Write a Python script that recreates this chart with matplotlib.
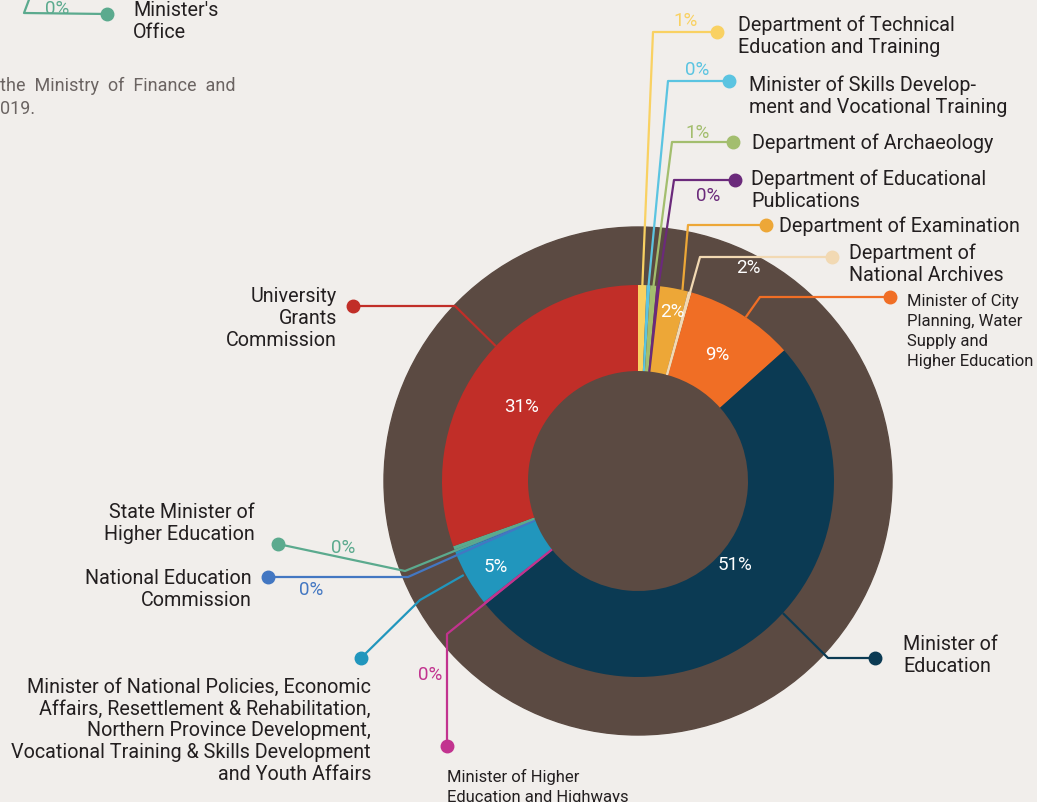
import numpy as np
import matplotlib.pyplot as plt
from matplotlib.patches import Circle

# Shares of expenditure (clockwise from 12 o'clock)
names = [
    "Department of Technical\nEducation and Training",
    "Minister of Skills Develop-\nment and Vocational Training",
    "Department of Archaeology",
    "Department of Educational\nPublications",
    "Department of Examination",
    "Department of\nNational Archives",
    "Minister of City\nPlanning, Water\nSupply and\nHigher Education",
    "Minister of\nEducation",
    "Minister of Higher\nEducation and Highways",
    "Minister of National Policies, Economic\nAffairs, Resettlement & Rehabilitation,\n"
    "Northern Province Development,\nVocational Training & Skills Development\nand Youth Affairs",
    "National Education\nCommission",
    "State Minister of\nHigher Education",
    "University\nGrants\nCommission",
]
shares = [0.7, 0.3, 0.5, 0.3, 2.3, 0.3, 9.0, 50.8, 0.2, 4.7, 0.2, 0.3, 30.4]
pct_labels = ["1%", "0%", "1%", "0%", "2%", "2%", "9%", "51%", "0%", "5%", "0%", "0%", "31%"]
colors = ["#F9D162", "#5BC4E1", "#A3BE6E", "#6B2A7B", "#EDA737", "#F2D9B3",
          "#F06E25", "#0B3A53", "#C2338F", "#2196BD", "#4377C2", "#5BAA8E", "#C12E28"]

BG = "#F1EEEB"
BROWN = "#5B4A42"
TXT = "#231F20"
W, H = 1037, 803
CX, CY = 638, 482          # ring centre in image pixels
R_OUT, R_IN, R_DISC = 196, 110, 254

plt.rcParams["font.family"] = ["Roboto", "DejaVu Sans"]

fig = plt.figure(figsize=(W / 100, H / 100), dpi=100)
fig.patch.set_facecolor(BG)
ax = fig.add_axes([0, 0, 1, 1])
ax.set_facecolor(BG)


def P(x, y):
    # image pixel -> data coords
    return x, H - y


ax.add_patch(Circle(P(CX, CY), R_DISC, color=BROWN, zorder=0))
wedges, _ = ax.pie(shares, colors=colors, radius=R_OUT, center=P(CX, CY),
                   startangle=90, counterclock=False, frame=True,
                   wedgeprops=dict(width=R_OUT - R_IN, linewidth=0))
ax.set_xlim(0, W)
ax.set_ylim(0, H)
ax.set_aspect("equal")
ax.axis("off")

# leader layout: (position in wedge, anchor radius, elbow, dot, pct pos, pct colour,
#                 text pos, text ha, fontsize, linespacing)
BIG, SMALL = 14.2, 12
layout = [
    (0.5, 193, (653, 33), (717, 33), (686, 21), None, (738, 36), "left", BIG, 1.2),
    (0.5, 193, (668, 82), (729, 82), (697, 70), None, (749, 96), "left", BIG, 1.2),
    (0.5, 193, (672, 143), (733, 143), (698, 133), None, (752, 143), "left", BIG, 1.2),
    (0.5, 193, (674, 181), (735, 181), (708, 196), None, (751, 190), "left", BIG, 1.2),
    (0.8, 196, (688, 226), (766, 226), (672, 312), "white", (779, 226), "left", BIG, 1.2),
    (0.5, 110, (700, 258), (832, 258), (748, 268), "white", (849, 264), "left", BIG, 1.2),
    (0.54, 196, (760, 298), (890, 298), (717, 355), "white", (907, 331), "left", SMALL, 1.4),
    (0.46, 196, (828, 659), (875, 659), (735, 565), "white", (903, 656), "left", BIG, 1.2),
    (0.5, 110, (447, 635), (447, 747), (430, 675), None, (447, 787), "left", SMALL, 1.35),
    (0.58, 198, (420, 601), (361, 659), (496, 567), "white", (371, 731), "right", BIG, 1.2),
    (0.5, 111, (408, 578), (268, 578), (311, 590), None, (252, 590), "right", BIG, 1.2),
    (0.5, 111, (405, 572), (278, 545), (343, 548), None, (255, 523), "right", BIG, 1.2),
    (0.575, 196, (455, 307), (353, 307), (522, 407), "white", (337, 319), "right", BIG, 1.2),
]

for w, name, pct, col, (frac, r, elbow, dot, ppos, pcol, tpos, ha, fs, ls) in zip(
        wedges, names, pct_labels, colors, layout):
    ang = np.deg2rad(w.theta2 - frac * (w.theta2 - w.theta1))
    ax_, ay_ = CX + r * np.cos(ang), CY - r * np.sin(ang)
    xs = [ax_, elbow[0], dot[0]]
    ys = [H - ay_, H - elbow[1], H - dot[1]]
    ax.plot(xs, ys, color=col, lw=1.6, solid_capstyle="butt", zorder=3)
    ax.plot(*P(*dot), "o", color=col, ms=9, zorder=4)
    ax.text(*P(*ppos), pct, color=pcol or col, fontsize=13.5, ha="center",
            va="center", zorder=5)
    ax.text(*P(*tpos), name, color=TXT, fontsize=fs, ha=ha, va="center",
            multialignment=ha, linespacing=ls, zorder=5)

# fragment of the neighbouring chart, top left
frag = "#5BAA8E"
ax.plot([30, 24, 107], [H + 2, H - 14, H - 15], color=frag, lw=1.6)
ax.plot(107, H - 15, "o", color=frag, ms=9)
ax.text(57, H, "0%", color=frag, fontsize=13.5, ha="center", va="top")
ax.text(133, H - 21, "Minister's\nOffice", color=TXT, fontsize=BIG, ha="left",
        va="center", linespacing=1.2)
ax.text(0, H - 86, "the  Ministry  of  Finance  and", color="#6B6462",
        fontsize=13, ha="left", va="center")
ax.text(0, H - 109, "019.", color="#6B6462", fontsize=13, ha="left", va="center")

fig.savefig("out.png", dpi=100, facecolor=BG)
